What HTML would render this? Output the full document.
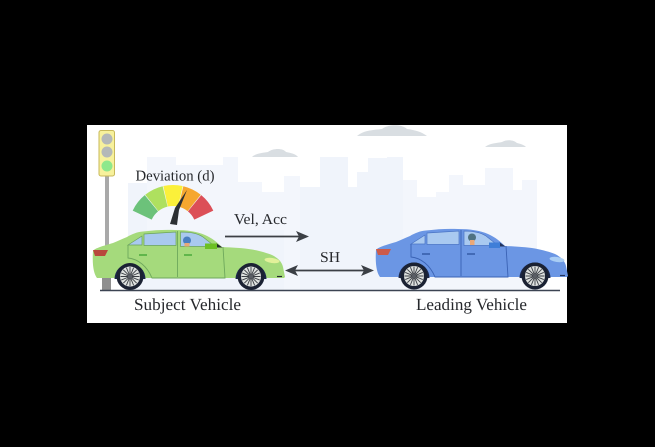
<!DOCTYPE html>
<html lang="en">
<head>
<meta charset="utf-8">
<title>Subject and leading vehicle diagram</title>
<style>
html,body{margin:0;padding:0;background:#000;width:655px;height:447px;overflow:hidden}
svg{display:block}
text{font-family:"Liberation Serif",serif;fill:#26282c;text-rendering:geometricPrecision}
</style>
</head>
<body>
<svg width="655" height="447" viewBox="0 0 655 447">
<defs>
<g id="wheel">
<circle r="13.500" fill="#1b2233"/>
<circle r="10" fill="#dfe2e0"/>
<g stroke="#3a3e44" stroke-width="0.900">
<line x1="-9.500" y1="0" x2="9.500" y2="0"/>
<line x1="0" y1="-9.500" x2="0" y2="9.500"/>
<line x1="-6.700" y1="-6.700" x2="6.700" y2="6.700"/>
<line x1="-6.700" y1="6.700" x2="6.700" y2="-6.700"/>
<line x1="-3.600" y1="-8.800" x2="3.600" y2="8.800"/>
<line x1="-8.800" y1="-3.600" x2="8.800" y2="3.600"/>
<line x1="-3.600" y1="8.800" x2="3.600" y2="-8.800"/>
<line x1="-8.800" y1="3.600" x2="8.800" y2="-3.600"/>
</g>
<circle r="2.200" fill="#5a5e65"/>
</g>
</defs>

<rect x="0" y="0" width="655" height="447" fill="#000"/>
<rect x="87" y="125" width="480" height="198" fill="#fff"/>

<g>
<path fill="#f3f6fc" d="M128 290V183H147V157H176V165H223V157H238V182H262V192H284V176H300V187H320V157H348V187H357V172H368V158H403V180H417V197H436V192H449V175H463V185H485V168H513V190H522V180H537V290Z"/>
<path fill="#f0f4fb" d="M300 290V187H320V157H348V187H357V172H368V158H387V157H403V290Z"/>
<path fill="#f0f4fb" d="M128 290V183H147V230H284V290Z"/>
</g>

<g fill="#d9dee2">
<path d="M357 136C364 130 374 130 382 129C388 124 402 124 407 129C415 130 422 132 427 136Z"/>
<path d="M485 147C490 143 498 143 502 142C507 139 514 140 517 143C521 144 524 145 526 147Z"/>
<path d="M252 157C256 153 263 153 268 152C273 148 283 148 286 152C291 153 296 154 298 157Z"/>
</g>

<g>
<rect x="105" y="175" width="4" height="106" fill="#a9a9a9"/>
<rect x="102" y="278" width="9" height="13" fill="#8f8f8f"/>
<rect x="99" y="130.500" width="15.500" height="45.500" rx="2" fill="#f7f19c" stroke="#c8b95a"/>
<circle cx="107" cy="139" r="5.500" fill="#b4b8b8"/>
<circle cx="107" cy="152" r="5.500" fill="#b4b8b8"/>
<circle cx="107" cy="166" r="5.500" fill="#8ee88c"/>
</g>

<line x1="100" y1="290.500" x2="560" y2="290.500" stroke="#3c4452" stroke-width="1.600"/>

<g fill="none" stroke-width="21">
<path stroke="#6cc27a" d="M142.200 215.100A34 34 0 0 1 151.400 203.300"/>
<path stroke="#aee05f" d="M151.800 202.900A34 34 0 0 1 165.100 196.400"/>
<path stroke="#fbf03a" d="M165.600 196.300A34 34 0 0 1 180.400 196.300"/>
<path stroke="#f6a72f" d="M180.900 196.400A34 34 0 0 1 194.200 202.900"/>
<path stroke="#dc4f57" d="M194.600 203.300A34 34 0 0 1 203.800 215.100"/>
</g>
<path d="M170 224L175 208L187 190L179 210L177 225Z" fill="#2b2f33"/>

<text x="135.500" y="180.500" font-size="15" textLength="79" lengthAdjust="spacingAndGlyphs">Deviation (d)</text>
<text x="234" y="224" font-size="15" textLength="53" lengthAdjust="spacingAndGlyphs">Vel, Acc</text>
<text x="320" y="262" font-size="15" textLength="20" lengthAdjust="spacingAndGlyphs">SH</text>
<text x="134" y="310" font-size="17" textLength="107" lengthAdjust="spacingAndGlyphs">Subject Vehicle</text>
<text x="416" y="310" font-size="17" textLength="111" lengthAdjust="spacingAndGlyphs">Leading Vehicle</text>

<g>
<line x1="225" y1="236.500" x2="304" y2="236.500" stroke="#3b3f45" stroke-width="1.800"/>
<path d="M296 231L309 236.500L296 242L299 236.500Z" fill="#3b3f45"/>
</g>
<g>
<line x1="290" y1="270.500" x2="369" y2="270.500" stroke="#3b3f45" stroke-width="1.800"/>
<path d="M285 270.500L298 265L295 270.500L298 276Z" fill="#3b3f45"/>
<path d="M374 270.500L361 265L364 270.500L361 276Z" fill="#3b3f45"/>
</g>

<g>
<path fill="#a5da7c" d="M93 251C95 248 103 246 113 243C118 241 122 239 127 237C132 234 137 232 143 231.500C155 230 165 229.500 175 230C187 230 197 231.500 205 235C212 238 218 243 222 247C232 247.500 243 248 252 249.500C260 251 267 253 272 255C278 258 282 262 283 267L285 277L284 278H97C94 274 92 266 93 251Z"/>
<path fill="#a9c9ef" stroke="#6aa35a" stroke-width="0.700" d="M128 245L142 236V245Z"/>
<path fill="#a9c9ef" stroke="#6aa35a" stroke-width="0.700" d="M144 234L176 232V245.500H144Z"/>
<path fill="#a9c9ef" stroke="#6aa35a" stroke-width="0.700" d="M180.500 232C190 232 197 233 203 237L215 246.500H180.500Z"/>
<circle cx="187" cy="240.500" r="4" fill="#4a7fc0"/>
<rect x="184.500" y="243" width="5" height="3.500" fill="#e8a877"/>
<path fill="#23282c" d="M216 243L222.500 247.500H216Z"/>
<path fill="#6cc024" d="M205 243.500H217V249H205Z"/>
<path fill="none" stroke="#6ea85c" stroke-width="0.900" d="M128 245V258C138 259 147 266 152 278H225L223 247M177.500 231V277"/>
<path fill="#b8483c" d="M93 250H108L105 256H95Z"/>
<ellipse cx="272" cy="260.500" rx="7.500" ry="2.500" fill="#e2f19a" transform="rotate(8 272 260.500)"/>
<path stroke="#23282c" stroke-width="1.200" d="M277 276.500H282"/>
<path stroke="#37a02e" stroke-width="1.200" d="M139 255H147M184 255H192"/>
<path fill="#1b2748" d="M114.500 279A15.500 15.500 0 0 1 145.500 279Z"/>
<path fill="#1b2748" d="M235.500 279A15.500 15.500 0 0 1 266.500 279Z"/>
<use href="#wheel" x="130" y="276.500"/>
<use href="#wheel" x="251" y="276.500"/>
</g>

<g transform="translate(283 -1)">
<path fill="#6b96e4" d="M93 251C95 248 103 246 113 243C118 241 122 239 127 237C132 234 137 232 143 231.500C155 230 165 229.500 175 230C187 230 197 231.500 205 235C212 238 218 243 222 247C232 247.500 243 248 252 249.500C260 251 267 253 272 255C278 258 282 262 283 267L285 277L284 278H97C94 274 92 266 93 251Z"/>
<path fill="#a9c9f0" stroke="#4a74c4" stroke-width="0.700" d="M128 245L142 236V245Z"/>
<path fill="#a9c9f0" stroke="#4a74c4" stroke-width="0.700" d="M144 234L176 232V245.500H144Z"/>
<path fill="#a9c9f0" stroke="#4a74c4" stroke-width="0.700" d="M181 232C190 232 197 233 203 237L215 246.500H181Z"/>
<circle cx="189" cy="238.500" r="4" fill="#4f7282"/>
<rect x="187" y="241" width="4.500" height="5" fill="#eba878"/>
<path fill="#23335c" d="M216 243L222.500 247.500H216Z"/>
<path fill="#3f7ed8" d="M206 243.500H217V249H206Z"/>
<path fill="none" stroke="#3a62b4" stroke-width="0.900" d="M128 245V258C138 259 147 266 152 278H225L223 247M178 231V277"/>
<path fill="#cc5a4a" d="M93 250H108L105 256H95Z"/>
<ellipse cx="274" cy="260.500" rx="7.500" ry="2.500" fill="#a9cdf4" transform="rotate(8 274 260.500)"/>
<path stroke="#23335c" stroke-width="1.200" d="M277 276.500H282"/>
<path stroke="#2a4f9a" stroke-width="1.200" d="M139 255H147M184 255H192"/>
<path fill="#1b2748" d="M115.500 279A15.500 15.500 0 0 1 146.500 279Z"/>
<path fill="#1b2748" d="M236.500 279A15.500 15.500 0 0 1 267.500 279Z"/>
<use href="#wheel" x="131" y="277"/>
<use href="#wheel" x="252" y="277"/>
</g>
</svg>
</body>
</html>
